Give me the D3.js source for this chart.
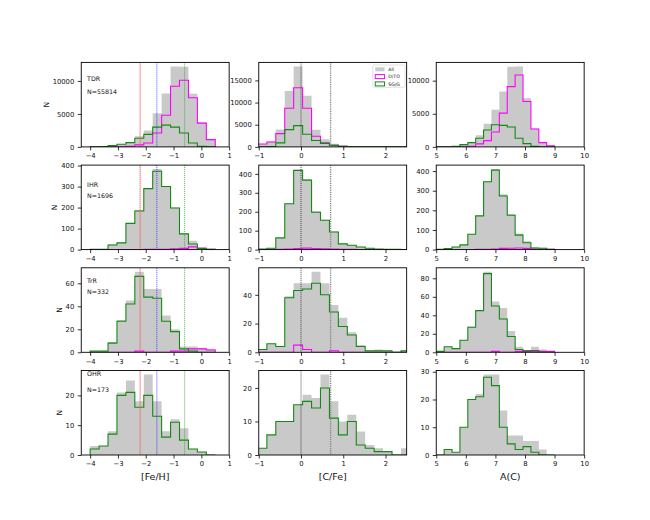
<!doctype html>
<html>
<head>
<meta charset="utf-8">
<title>[Fe/H], [C/Fe], A(C) by region</title>
<script src="https://cdnjs.cloudflare.com/ajax/libs/d3/7.8.5/d3.min.js"></script>
<style>
  body { margin: 0; background: #fff; }
  text { font-family: "DejaVu Sans", sans-serif; fill: #111; }
</style>
</head>
<body>
<div id="chart"></div>
<script>
// ---- bin edges and axis ticks ----
const feEdges  = [-4, -3.679, -3.357, -3.036, -2.714, -2.393, -2.071, -1.75, -1.429, -1.107, -0.786, -0.464, -0.143, 0.179, 0.5];
const cfeEdges = [-1.02, -0.808, -0.597, -0.385, -0.174, 0.038, 0.25, 0.461, 0.673, 0.884, 1.096, 1.308, 1.519, 1.731, 1.942, 2.154, 2.366, 2.577];
const acEdges  = [5, 5.267, 5.533, 5.8, 6.067, 6.333, 6.6, 6.867, 7.133, 7.4, 7.667, 7.933, 8.2, 8.467, 8.733, 9.0];

const feTicks  = [-4, -3, -2, -1, 0, 1];
const cfeTicks = [-1, 0, 1, 2];
const acTicks  = [5, 6, 7, 8, 9, 10];

const feLines  = [-2.2, -1.6, -0.6];
const cfeLines = [0, 0.7];

const regions = ["TDR", "IHR", "TrR", "OHR"];
const counts  = [55814, 1696, 332, 173];
const seriesNames = ["All", "D/TO", "SG/G"];

// ---- TDR ----
const tdrFeAll = [20, 60, 200, 420, 750, 1600, 2500, 5100, 8100, 12200, 12150, 8050, 3700, 1110];
const tdrFeDto = [0, 0, 0, 20, 100, 300, 600, 2100, 4800, 9200, 10100, 7450, 3600, 1100];
const tdrFeSgg = [20, 60, 200, 400, 650, 1300, 1900, 3000, 3300, 3000, 2100, 600, 100, 10];
const tdrCfeAll = [680, 1200, 3900, 12600, 18150, 11550, 3850, 1700, 700, 300, 150, 70, 30, 15, 10, 5, 2];
const tdrCfeDto = [650, 1100, 3000, 8700, 13350, 8700, 2400, 900, 350, 150, 80, 40, 15, 8, 5, 2, 1];
const tdrCfeSgg = [30, 100, 900, 3900, 4800, 2850, 1450, 800, 350, 150, 70, 30, 15, 7, 5, 3, 1];
const tdrAcAll = [0, 30, 100, 350, 750, 1750, 3500, 5600, 8350, 12100, 12150, 7350, 2780, 680, 180];
const tdrAcDto = [0, 0, 0, 0, 100, 450, 950, 2250, 5100, 9100, 10850, 6850, 2700, 650, 180];
const tdrAcSgg = [0, 30, 100, 350, 650, 1300, 2550, 3350, 3250, 3000, 1300, 500, 80, 30, 0];

// ---- IHR ----
const ihrFeAll = [2, 3, 25, 34, 127, 188, 293, 383, 302, 200, 78, 42, 12, 3];
const ihrFeDto = [0, 0, 0, 0, 0, 0, 1, 2, 2, 4, 6, 13, 6, 2];
const ihrFeSgg = [2, 2, 22, 32, 125, 184, 290, 373, 300, 198, 75, 27, 5, 1];
const ihrCfeAll = [3, 8, 63, 245, 425, 372, 202, 158, 96, 32, 24, 15, 8, 3, 1, 2, 0];
const ihrCfeDto = [0, 0, 1, 3, 6, 8, 6, 4, 3, 1, 1, 0, 0, 0, 0, 0, 0];
const ihrCfeSgg = [3, 7, 62, 242, 418, 367, 197, 155, 93, 30, 23, 14, 7, 3, 1, 2, 0];
const ihrAcAll = [1, 5, 15, 25, 80, 174, 348, 410, 282, 182, 82, 42, 12, 10, 2];
const ihrAcDto = [0, 0, 0, 0, 0, 1, 2, 3, 6, 7, 8, 6, 3, 2, 1];
const ihrAcSgg = [1, 5, 13, 24, 78, 172, 346, 405, 273, 175, 74, 35, 8, 7, 1];

// ---- TrR ----
const trrFeAll = [1, 1, 9, 28, 45, 70, 55, 55, 32, 20, 5, 5, 4, 3];
const trrFeDto = [0, 0, 0, 0, 0, 1, 0, 0, 0, 1, 1, 3, 3, 2];
const trrFeSgg = [1, 1, 8, 27, 42, 66, 48, 47, 27, 18, 3, 1, 0, 0];
const trrCfeAll = [2, 6, 4, 39, 48, 48, 56, 48, 33, 24, 14, 5, 1, 2, 1, 0, 1];
const trrCfeDto = [0, 0, 0, 0, 5, 2, 0, 0, 1, 0, 0, 0, 0, 0, 0, 0, 0];
const trrCfeSgg = [2, 6, 4, 38, 43, 44, 48, 40, 28, 18, 12, 4, 1, 1, 1, 0, 1];
const trrAcAll = [1, 6, 4, 13, 28, 45, 87, 55, 48, 23, 6, 2, 6, 3, 1];
const trrAcDto = [0, 0, 0, 0, 0, 0, 0, 1, 0, 0, 1, 2, 1, 1, 1];
const trrAcSgg = [1, 6, 4, 13, 27, 45, 85, 50, 36, 17, 3, 1, 2, 0, 0];

// ---- OHR (no D/TO stars) ----
const ohrFeAll = [3, 3, 8, 21, 25, 18, 27, 18, 8, 12, 9, 2, 1, 0];
const ohrFeSgg = [2, 3, 7, 20, 21, 16, 20, 13, 6, 11, 5, 2, 1, 0];
const ohrCfeAll = [2, 6, 10, 10, 15, 18, 17, 24, 16, 10, 12, 7, 3, 2, 1, 0, 2];
const ohrCfeSgg = [2, 6, 10, 10, 15, 16, 14, 20, 11, 6, 10, 3, 2, 1, 1, 0, 0];
const ohrAcAll = [0, 2, 1, 10, 20, 22, 29, 29, 16, 7, 7, 5, 5, 2, 0];
const ohrAcSgg = [0, 2, 1, 10, 20, 21, 28, 25, 10, 4, 2, 3, 1, 0, 0];

const yTicks = [
  [[0, 5000, 10000], [0, 5000, 10000, 15000], [0, 5000, 10000]],
  [[0, 100, 200, 300, 400], [0, 100, 200, 300, 400], [0, 100, 200, 300, 400]],
  [[0, 20, 40, 60], [0, 20, 40], [0, 20, 40, 60, 80]],
  [[0, 10, 20], [0, 10, 20], [0, 10, 20, 30]]
];

// grid of panels built from the arrays above
const grid = [
  [[tdrFeAll, tdrFeDto, tdrFeSgg], [tdrCfeAll, tdrCfeDto, tdrCfeSgg], [tdrAcAll, tdrAcDto, tdrAcSgg]],
  [[ihrFeAll, ihrFeDto, ihrFeSgg], [ihrCfeAll, ihrCfeDto, ihrCfeSgg], [ihrAcAll, ihrAcDto, ihrAcSgg]],
  [[trrFeAll, trrFeDto, trrFeSgg], [trrCfeAll, trrCfeDto, trrCfeSgg], [trrAcAll, trrAcDto, trrAcSgg]],
  [[ohrFeAll, [], ohrFeSgg], [ohrCfeAll, [], ohrCfeSgg], [ohrAcAll, [], ohrAcSgg]]
];

// ---- layout ----
const W = 650, H = 520;
const pw = 147.9, ph = 84.5;
const colLeft = [81.25, 258.75, 436.25];
const rowTop = [62.4, 165.1, 267.8, 370.5];
const labelY = [[18.6, 32.1], [21.9, 32.9], [15.7, 26.7], [5.5, 21.5]];

const colours = { all: "#c9c9c9", dto: "#ff00ff", sgg: "#138a13" };

const xcfg = [
  { edges: feEdges, domain: [-4.32, 1], ticks: feTicks, label: "[Fe/H]" },
  { edges: cfeEdges, domain: [-1, 2.5], ticks: cfeTicks, label: "[C/Fe]" },
  { edges: acEdges, domain: [5, 10], ticks: acTicks, label: "A(C)" }
];

const svg = d3.select("#chart").append("svg")
  .attr("width", W).attr("height", H);

function stepPath(vals, edges, x, y) {
  const p = d3.path();
  p.moveTo(x(edges[0]), y(0));
  vals.forEach((v, i) => {
    p.lineTo(x(edges[i]), y(v));
    p.lineTo(x(edges[i + 1]), y(v));
  });
  p.lineTo(x(edges[vals.length]), y(0));
  return p.toString();
}

grid.forEach((row, r) => {
  row.forEach((series, c) => {
    const [all, dto, sgg] = series;
    const cfg = xcfg[c];
    const g = svg.append("g")
      .attr("transform", `translate(${colLeft[c]},${rowTop[r]})`);

    const x = d3.scaleLinear().domain(cfg.domain).range([0, pw]);
    const ymax = d3.max([...all, ...dto, ...sgg]) * 1.05;
    const y = d3.scaleLinear().domain([0, ymax]).range([ph, 0]);

    const clipId = `clip-${r}-${c}`;
    g.append("clipPath").attr("id", clipId)
      .append("rect").attr("width", pw).attr("height", ph);
    const plot = g.append("g").attr("clip-path", `url(#${clipId})`);

    // filled histogram for all stars
    plot.append("path")
      .attr("d", stepPath(all, cfg.edges, x, y) + "Z")
      .attr("fill", colours.all);

    if (dto.length) {
      plot.append("path")
        .attr("d", stepPath(dto, cfg.edges, x, y))
        .attr("fill", "none").attr("stroke", colours.dto).attr("stroke-width", 1.1);
    }
    plot.append("path")
      .attr("d", stepPath(sgg, cfg.edges, x, y))
      .attr("fill", "none").attr("stroke", colours.sgg).attr("stroke-width", 1.1);

    // reference lines
    if (c === 0) {
      plot.append("line")
        .attr("x1", x(feLines[0])).attr("x2", x(feLines[0]))
        .attr("y1", 0).attr("y2", ph)
        .attr("stroke", "#ff5050").attr("stroke-opacity", 0.22).attr("stroke-width", 1.8);
      const lc = ["#f07070", "#2020ff", "#2a9a2a"];
      feLines.forEach((v, i) => {
        plot.append("line")
          .attr("x1", x(v)).attr("x2", x(v)).attr("y1", 0).attr("y2", ph)
          .attr("stroke", lc[i]).attr("stroke-width", 0.8)
          .attr("stroke-dasharray", "1,1");
      });
    } else if (c === 1) {
      plot.append("line")
        .attr("x1", x(cfeLines[0])).attr("x2", x(cfeLines[0])).attr("y1", 0).attr("y2", ph)
        .attr("stroke", "#222").attr("stroke-width", 0.8).attr("stroke-dasharray", "1,1");
      plot.append("line")
        .attr("x1", x(cfeLines[1])).attr("x2", x(cfeLines[1])).attr("y1", 0).attr("y2", ph)
        .attr("stroke", "#888").attr("stroke-width", 1.4).attr("stroke-dasharray", "1,0.8");
    }

    // axes
    const xAxis = g.append("g").attr("transform", `translate(0,${ph})`)
      .call(d3.axisBottom(x).tickValues(cfg.ticks).tickSize(3.5).tickPadding(3)
        .tickFormat(d3.format("d")));
    const yAxis = g.append("g")
      .call(d3.axisLeft(y).tickValues(yTicks[r][c]).tickSize(3.5).tickPadding(3.5)
        .tickFormat(d3.format("d")));
    [xAxis, yAxis].forEach(a => {
      a.select(".domain").remove();
      a.selectAll("line").attr("stroke", "#000").attr("stroke-width", 0.8);
      a.selectAll("text").attr("font-size", 6.8).attr("fill", "#111")
        .attr("font-family", "DejaVu Sans, sans-serif");
    });

    g.append("rect").attr("width", pw).attr("height", ph)
      .attr("fill", "none").attr("stroke", "#000").attr("stroke-width", 0.9);

    if (c === 0) {
      g.append("text").attr("x", 5.8).attr("y", labelY[r][0])
        .attr("font-size", 6.3).text(regions[r]);
      g.append("text").attr("x", 5.8).attr("y", labelY[r][1])
        .attr("font-size", 6.3).text("N=" + counts[r]);
      const bb = yAxis.node().getBBox();
      g.append("text")
        .attr("transform", `translate(${bb.x - 4},${ph / 2}) rotate(-90)`)
        .attr("text-anchor", "middle").attr("font-size", 7.5).text("N");
    }

    if (r === 3) {
      g.append("text").attr("x", pw / 2).attr("y", ph + 24.5)
        .attr("text-anchor", "middle").attr("font-size", 9.5).text(cfg.label);
    }

    // legend in the TDR [C/Fe] panel
    if (r === 0 && c === 1) {
      const lg = g.append("g").attr("transform", "translate(114,2.6)");
      lg.append("rect").attr("width", 32.3).attr("height", 22.3).attr("rx", 1.5)
        .attr("fill", "#fff").attr("fill-opacity", 0.85)
        .attr("stroke", "#ccc").attr("stroke-width", 0.6);
      const sw = [
        { fill: colours.all, stroke: "none" },
        { fill: "none", stroke: colours.dto },
        { fill: "none", stroke: colours.sgg }
      ];
      seriesNames.forEach((name, i) => {
        const yy = 4.4 + i * 7.3;
        lg.append("rect").attr("x", 2.5).attr("y", yy - 2.1)
          .attr("width", 9.3).attr("height", 4)
          .attr("fill", sw[i].fill).attr("stroke", sw[i].stroke).attr("stroke-width", 1);
        lg.append("text").attr("x", 15.5).attr("y", yy + 1.7)
          .attr("font-size", 4.6).text(name);
      });
    }
  });
});
</script>
</body>
</html>
